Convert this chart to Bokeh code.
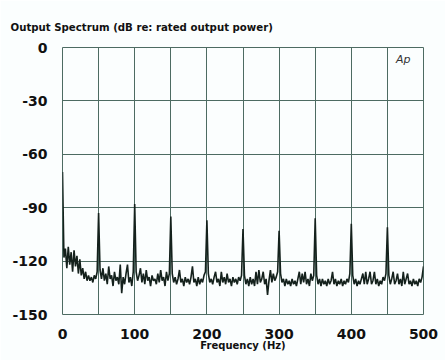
from bokeh.plotting import figure
from bokeh.models import FixedTicker, Label, PrintfTickFormatter, LinearAxis
from bokeh.embed import file_html
from bokeh.resources import INLINE
import numpy as np

# Frequency bins (Hz), 2 Hz resolution
freqs = np.arange(0, 502, 2)

# Output level (dB re: rated output power)
levels = [
    # 0 - 48 Hz
    -70, -118, -113, -124, -112, -122, -115, -126, -114, -123, -117, -127, -119,
    -128, -124, -130, -126, -131, -128, -131, -129, -132, -128, -130, -126,
    # 50 - 98 Hz
    -93, -125, -130, -124, -131, -127, -133, -123, -130, -128, -134, -126, -131,
    -129, -133, -122, -138, -129, -133, -127, -122, -132, -129, -134, -126,
    # 100 - 148 Hz
    -88, -126, -131, -128, -124, -132, -127, -133, -125, -131, -129, -134, -128,
    -131, -130, -133, -127, -132, -125, -131, -129, -134, -126, -131, -127,
    # 150 - 198 Hz
    -95, -127, -132, -129, -133, -130, -125, -132, -130, -134, -129, -132, -130,
    -133, -129, -123, -132, -130, -134, -129, -133, -130, -132, -128, -126,
    # 200 - 248 Hz
    -97, -127, -132, -130, -133, -129, -126, -132, -130, -134, -126, -132, -129,
    -133, -127, -132, -130, -134, -129, -132, -130, -133, -129, -131, -128,
    # 250 - 298 Hz
    -102, -128, -133, -130, -134, -129, -133, -130, -134, -126, -133, -125, -132,
    -130, -126, -133, -130, -139, -131, -125, -132, -127, -131, -129, -126,
    # 300 - 348 Hz
    -103, -127, -132, -130, -134, -130, -133, -131, -134, -130, -133, -131, -134,
    -130, -126, -133, -127, -132, -126, -133, -130, -134, -127, -131, -128,
    # 350 - 398 Hz
    -96, -128, -133, -130, -134, -130, -133, -131, -134, -130, -133, -131, -126,
    -133, -130, -134, -131, -133, -130, -134, -131, -133, -130, -132, -127,
    # 400 - 448 Hz
    -99, -128, -133, -130, -134, -131, -133, -130, -127, -133, -126, -133, -130,
    -126, -133, -131, -126, -133, -130, -134, -131, -133, -129, -131, -127,
    # 450 - 500 Hz
    -101, -128, -133, -130, -126, -133, -131, -127, -133, -130, -134, -126, -133,
    -130, -127, -133, -131, -134, -130, -133, -131, -134, -130, -132, -129, -123,
]

x_labels = [0, 100, 200, 300, 400, 500]
x_grid = [0, 50, 100, 150, 200, 250, 300, 350, 400, 450, 500]
y_ticks = [0, -30, -60, -90, -120, -150]

GRID = "#4d6b62"
BG = "#fbfefe"
FONT = "DejaVu Sans"

p = figure(frame_width=361, frame_height=267, x_range=(0, 500), y_range=(-150, 0),
           output_backend="svg", toolbar_location=None,
           background_fill_color=BG, border_fill_color=BG)
p.min_border_left = 62
p.min_border_right = 22
p.min_border_top = 47
p.min_border_bottom = 46

# Invisible spacer axis above the frame, so the title sits higher up
spacer = LinearAxis(ticker=FixedTicker(ticks=x_labels), axis_line_color=None,
                    major_tick_line_color=None, minor_tick_line_color=None,
                    major_tick_in=0, major_tick_out=13, major_label_standoff=0,
                    major_label_text_alpha=0.0)
p.add_layout(spacer, "above")

p.title.text = "Output Spectrum (dB re: rated output power)"
p.title.text_font = FONT
p.title.text_font_size = "10.2px"
p.title.text_font_style = "bold"
p.title.text_color = "#111111"
p.title.offset = -52
p.title.standoff = 4
p.title.vertical_align = "bottom"

p.outline_line_color = GRID
p.outline_line_width = 1

p.yaxis.ticker = FixedTicker(ticks=y_ticks)
p.yaxis.formatter = PrintfTickFormatter(format="%d")
p.xgrid.ticker = FixedTicker(ticks=x_grid)
p.ygrid.ticker = FixedTicker(ticks=y_ticks)
for g in (p.xgrid, p.ygrid):
    g.grid_line_color = GRID
    g.grid_line_width = 1
    g.grid_line_alpha = 1.0

for ax in (p.below[0], p.yaxis[0]):
    ax.axis_line_color = None
    ax.major_tick_line_color = None
    ax.minor_tick_line_color = None
    ax.major_label_text_font = FONT
    ax.major_label_text_font_size = "14px"
    ax.major_label_text_font_style = "bold"
    ax.major_label_text_color = "#111111"

xa = p.below[0]
xa.ticker = FixedTicker(ticks=x_labels)
xa.major_label_standoff = 8
xa.axis_label = "Frequency (Hz)"
xa.axis_label_text_font = FONT
xa.axis_label_text_font_size = "10px"
xa.axis_label_text_font_style = "bold"
xa.axis_label_text_color = "#111111"
xa.axis_label_standoff = -2
p.yaxis.major_label_standoff = 9

p.line(freqs, levels, line_color="#14211c", line_width=1.6)

p.add_layout(Label(x=482, y=-7, text="Ap", text_font=FONT, text_font_size="11px",
                   text_font_style="italic", text_color="#333333",
                   text_align="right", text_baseline="middle"))

open("out.html", "w").write(file_html(p, INLINE))
